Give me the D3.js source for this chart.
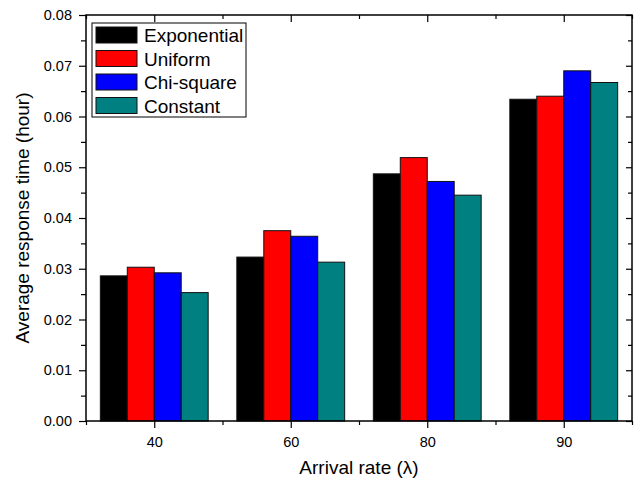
<!DOCTYPE html>
<html>
<head>
<meta charset="utf-8">
<script src="https://cdn.jsdelivr.net/npm/d3@7"></script>
<style>
  body { margin: 0; background: #fff; }
  svg { font-family: "Liberation Sans", Arial, sans-serif; }
</style>
</head>
<body>
<div id="chart"></div>
<script>
const categories = ['40', '60', '80', '90']
const seriesNames = ['Exponential', 'Uniform', 'Chi-square', 'Constant']
const colors = ['#000000', '#ff0000', '#0000ff', '#008080']
const exponential = [0.0286, 0.0323, 0.0487, 0.0634]
const uniform = [0.0303, 0.0375, 0.0519, 0.0640]
const chiSquare = [0.0292, 0.0364, 0.0472, 0.0690]
const constant = [0.0253, 0.0313, 0.0445, 0.0667]
const yTicks = [0, 0.01, 0.02, 0.03, 0.04, 0.05, 0.06, 0.07, 0.08]

const Width = 638
const Height = 485
const margin = { top: 15, right: 6, bottom: 64, left: 86 }
const innerW = Width - margin.left - margin.right
const innerH = Height - margin.top - margin.bottom

const series = [exponential, uniform, chiSquare, constant]

const svg = d3.select('#chart')
    .append('svg')
    .attr('width', Width)
    .attr('height', Height)

const g = svg.append('g')
    .attr('transform', `translate(${margin.left},${margin.top})`)

const x = d3.scaleBand()
    .domain(categories)
    .range([0, innerW])
    .paddingInner(0.21)
    .paddingOuter(0.105)

const xSub = d3.scaleBand()
    .domain(seriesNames)
    .range([0, x.bandwidth()])

const y = d3.scaleLinear()
    .domain([0, 0.08])
    .range([innerH, 0])

// bars
const groups = g.selectAll('.grp')
    .data(categories)
    .enter().append('g')
    .attr('transform', d => `translate(${x(d)},0)`)

groups.selectAll('rect')
    .data((d, i) => seriesNames.map((s, j) => ({ s, j, v: series[j][i] })))
    .enter().append('rect')
    .attr('x', d => xSub(d.s))
    .attr('y', d => y(d.v))
    .attr('width', xSub.bandwidth())
    .attr('height', d => innerH - y(d.v))
    .attr('fill', d => colors[d.j])
    .attr('stroke', '#111')
    .attr('stroke-width', 1)

// frame
g.append('rect')
    .attr('width', innerW)
    .attr('height', innerH)
    .attr('fill', 'none')
    .attr('stroke', '#000')
    .attr('stroke-width', 1.5)

const minorY = d3.range(0.005, 0.08, 0.01)
const step = innerW / categories.length
const centers = categories.map(c => x(c) + x.bandwidth() / 2)
const bounds = d3.range(0, categories.length + 1).map(i => i * step)

// left axis
const yAxis = d3.axisLeft(y)
    .tickValues(yTicks)
    .tickFormat(d3.format('.2f'))
    .tickSize(7)
    .tickPadding(7)
g.append('g').call(yAxis)
g.append('g').call(d3.axisLeft(y).tickValues(minorY).tickSize(5).tickFormat(''))

// right axis (inward)
g.append('g').attr('transform', `translate(${innerW},0)`)
    .call(d3.axisLeft(y).tickValues(yTicks).tickSize(6).tickFormat(''))
g.append('g').attr('transform', `translate(${innerW},0)`)
    .call(d3.axisLeft(y).tickValues(minorY).tickSize(4).tickFormat(''))

// bottom axis
const xPos = d3.scaleLinear().domain([0, innerW]).range([0, innerW])
g.append('g').attr('transform', `translate(0,${innerH})`)
    .call(d3.axisBottom(xPos).tickValues(centers).tickSize(7).tickPadding(9)
        .tickFormat((d, i) => categories[i]))
g.append('g').attr('transform', `translate(0,${innerH})`)
    .call(d3.axisBottom(xPos).tickValues(bounds).tickSize(4).tickFormat(''))

// top axis (inward)
g.append('g')
    .call(d3.axisBottom(xPos).tickValues(centers).tickSize(7).tickFormat(''))
g.append('g')
    .call(d3.axisBottom(xPos).tickValues(bounds).tickSize(4).tickFormat(''))

g.selectAll('.domain').remove()
g.selectAll('.tick line').attr('stroke', '#000').attr('stroke-width', 1.2)
g.selectAll('.tick text').attr('font-size', 14.5).attr('fill', '#000')
    .attr('font-family', '"Liberation Sans", Arial, sans-serif')

// axis titles
svg.append('text')
    .attr('x', margin.left + innerW / 2)
    .attr('y', 474)
    .attr('text-anchor', 'middle')
    .attr('font-size', 19)
    .text('Arrival rate (λ)')

svg.append('text')
    .attr('transform', `translate(29,${margin.top + innerH / 2}) rotate(-90)`)
    .attr('text-anchor', 'middle')
    .attr('font-size', 19)
    .text('Average response time (hour)')

// legend
const legend = g.append('g').attr('transform', 'translate(6,8)')
legend.append('rect')
    .attr('width', 154)
    .attr('height', 94)
    .attr('fill', '#fff')
    .attr('stroke', '#000')
    .attr('stroke-width', 1)

const items = legend.selectAll('.item')
    .data(seriesNames)
    .enter().append('g')
    .attr('transform', (d, i) => `translate(4,${4 + i * 23.5})`)

items.append('rect')
    .attr('width', 41)
    .attr('height', 16)
    .attr('fill', (d, i) => colors[i])
    .attr('stroke', '#111')

items.append('text')
    .attr('x', 48)
    .attr('y', 15)
    .attr('font-size', 19)
    .text(d => d)
</script>
</body>
</html>
